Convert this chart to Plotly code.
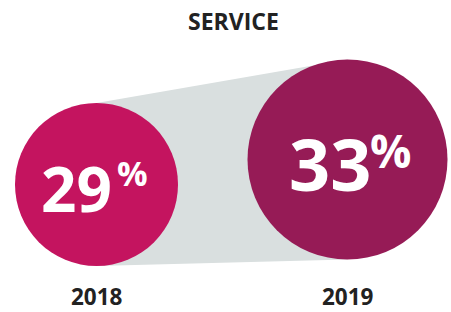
import plotly.graph_objects as go

# ---- data ----
title = "SERVICE"
years = ["2018", "2019"]
values = [29, 33]

# ---- layout / style (pixel space) ----
W, H = 451, 312
cx = [96.5, 347.5]
cy = [184.5, 159.5]
radius = [81.5, 100]
colors = ["#C4145F", "#961B56"]
bridge_color = "#D9DFDF"
num_size = [62, 72]
pct_size = [34, 46]
num_dx = [16, 24]
num_dy = [3, 3]
pct_dx = [19, 21]
pct_dy = [-12, -10]
FONT = "Open Sans"

fig = go.Figure()

# connecting band (tangent from left circle top/bottom to right circle)
bx = [cx[0], cx[1], cx[1], cx[0], cx[0]]
by = [cy[0] - radius[0], cy[1] - radius[1], cy[1] + radius[1], cy[0] + radius[0], cy[0] - radius[0]]
fig.add_trace(go.Scatter(x=bx, y=by, mode="lines", fill="toself",
                         fillcolor=bridge_color, line=dict(width=0),
                         hoverinfo="skip", showlegend=False))

for i in range(len(years)):
    fig.add_shape(type="circle", xref="x", yref="y",
                  x0=cx[i] - radius[i], x1=cx[i] + radius[i],
                  y0=cy[i] - radius[i], y1=cy[i] + radius[i],
                  fillcolor=colors[i], line=dict(width=0), layer="above")

annotations = []
for i, (yr, v) in enumerate(zip(years, values)):
    annotations.append(dict(x=cx[i] + num_dx[i], y=cy[i] + num_dy[i], xref="x", yref="y",
                            text=f"<b>{v}</b>", showarrow=False,
                            xanchor="right", yanchor="middle", borderpad=0,
                            font=dict(family=FONT, size=num_size[i], color="white")))
    annotations.append(dict(x=cx[i] + pct_dx[i], y=cy[i] + pct_dy[i], xref="x", yref="y",
                            text="<b>%</b>", showarrow=False,
                            xanchor="left", yanchor="middle", borderpad=0,
                            font=dict(family=FONT, size=pct_size[i], color="white")))
    annotations.append(dict(x=cx[i], y=296.5, xref="x", yref="y",
                            text=f"<b>{yr}</b>", showarrow=False,
                            xanchor="center", yanchor="middle", borderpad=0,
                            font=dict(family=FONT, size=22.5, color="#222222")))

annotations.append(dict(x=W / 2 + 8, y=21, xref="x", yref="y",
                        text=f"<b>{title}</b>", showarrow=False,
                        xanchor="center", yanchor="middle", borderpad=0,
                        font=dict(family=FONT, size=23, color="#222222")))

fig.update_layout(
    width=W, height=H,
    margin=dict(l=0, r=0, t=0, b=0),
    paper_bgcolor="white", plot_bgcolor="white",
    xaxis=dict(range=[0, W], visible=False, fixedrange=True),
    yaxis=dict(range=[H, 0], visible=False, fixedrange=True),
    annotations=annotations,
    showlegend=False,
)

fig.write_html("out.html", config={"displayModeBar": False},
               post_script="document.body.style.margin='0';document.body.style.padding='0';")
